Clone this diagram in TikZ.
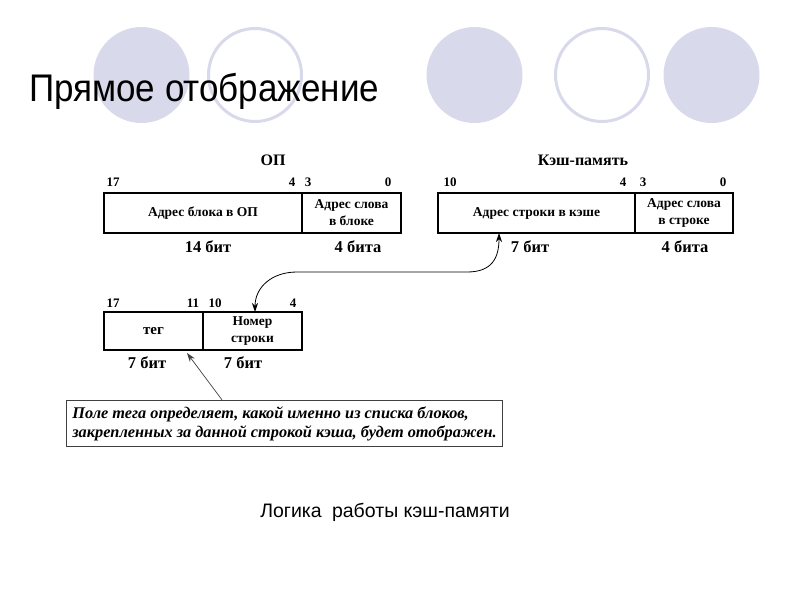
\documentclass[tikz,border=0pt]{standalone}
\usepackage{fontspec}
\setmainfont{Liberation Serif}
\newfontfamily\arialfont{Liberation Sans}
\usetikzlibrary{arrows.meta,positioning}
\definecolor{lilac}{HTML}{D9D9EC}

\begin{document}
\begin{tikzpicture}[x=1pt, y=-1pt,
  cell/.style={draw, line width=1.2pt, outer sep=0pt, inner sep=1pt,
               align=center, minimum height=40pt,
               font=\fontsize{13.5}{17}\selectfont\bfseries},
  bitno/.style={inner sep=0pt, font=\fontsize{13}{15}\selectfont\bfseries},
  bits/.style={inner sep=0pt, font=\fontsize{16.5}{18}\selectfont\bfseries},
  head/.style={inner sep=0pt, font=\fontsize{16}{18}\selectfont\bfseries},
  disc/.style={circle, fill=lilac, minimum size=96pt, inner sep=0pt},
  ring/.style={circle, draw=lilac, line width=3pt, fill=white,
               minimum size=93pt, inner sep=0pt},
  note/.style={draw=black!75, line width=1pt, align=left, inner xsep=6pt,
               inner ysep=6pt,
               font=\fontsize{16.3}{19}\selectfont\bfseries\itshape},
  >={Stealth[length=9pt,width=6pt]}]
\useasboundingbox (0,0) rectangle (800,600);
\node[disc] (c1) at (141.5,75) {};
\node[ring] (c2) at (255,75) {};
\node[disc] (c3) at (474.5,75) {};
\node[ring] (c4) at (602,75) {};
\node[disc] (c5) at (711.5,75) {};
\node[anchor=base west, inner sep=0pt,
      font=\arialfont\fontsize{35}{40}\selectfont] (title) at (29,101)
  {\scalebox{1}[1.1]{Прямое отображение}};

\node[cell, minimum width=198pt] (opblock) at (203,213) {Адрес блока в ОП};
\node[cell, minimum width=99pt, right=0pt of opblock] (opword)
  {Адрес слова\\в блоке};
\node[head] (ophead) at (273,160) {ОП};
\node[bitno] at (113,182) {17};
\node[bitno] at (292,182) {4};
\node[bitno] at (308,182) {3};
\node[bitno] at (388,182) {0};
\node[bits] at (208,247) {14 бит};
\node[bits] at (358,247) {4 бита};

\node[cell, minimum width=197pt] (cacheline) at (536.5,213)
  {Адрес строки в кэше};
\node[cell, minimum width=98pt, right=0pt of cacheline] (cacheword)
  {Адрес слова\\в строке};
\node[head] (cachehead) at (583,160) {Кэш-память};
\node[bitno] at (450,182) {10};
\node[bitno] at (623,182) {4};
\node[bitno] at (643,182) {3};
\node[bitno] at (723,182) {0};
\node[bits] at (530,247) {7 бит};
\node[bits] at (685,247) {4 бита};

\node[cell, minimum width=99pt, minimum height=38pt,
      font=\fontsize{15}{17}\selectfont\bfseries] (tag) at (153.5,331) {тег};
\node[cell, minimum width=99pt, minimum height=38pt, right=0pt of tag] (nomer)
  {Номер\\строки};
\node[bitno] at (113,303) {17};
\node[bitno] at (193,303) {11};
\node[bitno] at (215,303) {10};
\node[bitno] at (293,303) {4};
\node[bits] at (147,363) {7 бит};
\node[bits] at (243,363) {7 бит};

\node[note] (note) at (284.5,423.5)
  {Поле тега определяет, какой именно из списка блоков,\\
   закрепленных за данной строкой кэша, будет отображен.};

\node[inner sep=0pt, font=\arialfont\fontsize{19.5}{22}\selectfont] (caption)
  at (385,512) {Логика\hspace{0.25em} работы кэш-памяти};

\coordinate (bendR) at (467,272);
\coordinate (bendL) at (297,272);
\draw[<->, line width=0.8pt] ([xshift=-37.5pt]cacheline.south)
  .. controls +(0,25) and +(25,0) .. (bendR) -- (bendL)
  .. controls +(-25,0) and +(0,-25) .. ([xshift=2.5pt]nomer.north);
\draw[->, line width=0.7pt, black!75] ([xshift=-62.5pt]note.north)
  -- ([xshift=33.5pt, yshift=-3pt]tag.south);
\end{tikzpicture}
\end{document}
